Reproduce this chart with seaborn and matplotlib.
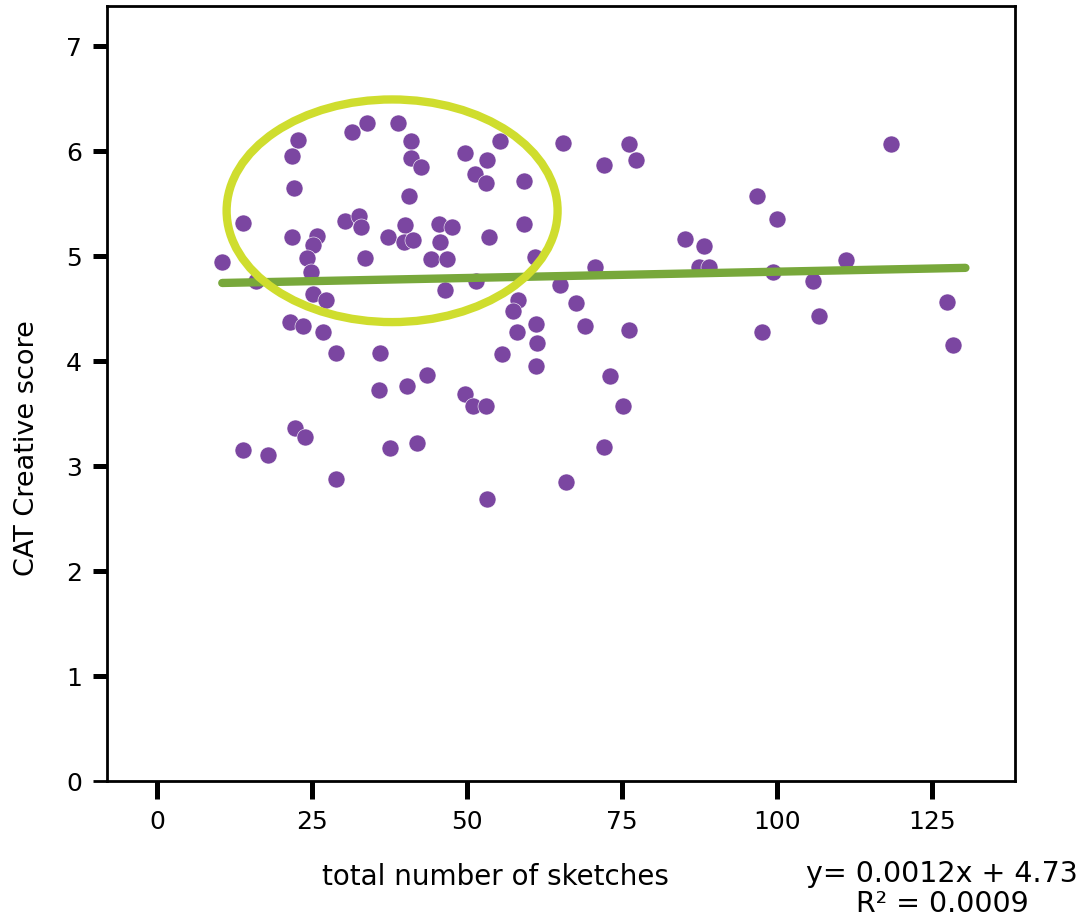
import numpy as np
import pandas as pd
import matplotlib
matplotlib.use("Agg")
import matplotlib.pyplot as plt
from matplotlib.patches import Ellipse
import seaborn as sns

# Total number of sketches per participant
sketches = [
    10.5, 13.9, 16.0, 22.7, 21.8, 22.1, 21.8, 25.8, 25.2, 24.2,
    24.8, 25.2, 27.3, 30.3, 32.6, 32.9, 31.5, 33.9, 37.3, 21.5,
    23.5, 26.8, 28.9, 36.0, 35.8, 22.3, 23.9, 13.9, 17.9, 28.9,
    37.6, 33.5, 38.9, 41.0, 41.0, 42.6, 40.6, 40.0, 39.8, 41.3,
    45.5, 47.6, 45.6, 44.2, 46.8, 46.5, 49.7, 53.2, 51.3, 53.1,
    55.3, 59.2, 53.5, 59.2, 61.0, 51.5, 65.5, 65.0, 58.2, 57.4,
    67.6, 61.1, 58.1, 61.3, 55.6, 61.1, 69.0, 43.5, 40.3, 49.7,
    51.0, 53.1, 41.9, 66.0, 53.2, 76.1, 77.3, 72.1, 96.8, 100.0,
    85.2, 88.2, 70.6, 87.4, 89.0, 99.4, 76.1, 97.6, 73.1, 75.2,
    72.1, 118.4, 105.8, 111.1, 106.8, 127.4, 128.4,
]

# CAT Creative score per participant
scores = [
    4.94, 5.31, 4.76, 6.10, 5.95, 5.65, 5.18, 5.19, 5.10, 4.98,
    4.85, 4.64, 4.58, 5.33, 5.38, 5.28, 6.18, 6.27, 5.18, 4.37,
    4.33, 4.28, 4.08, 4.08, 3.72, 3.36, 3.28, 3.15, 3.10, 2.88,
    3.17, 4.98, 6.27, 6.09, 5.93, 5.85, 5.57, 5.29, 5.13, 5.15,
    5.30, 5.28, 5.13, 4.97, 4.97, 4.68, 5.98, 5.91, 5.78, 5.69,
    6.09, 5.71, 5.18, 5.30, 4.99, 4.76, 6.08, 4.72, 4.58, 4.48,
    4.55, 4.35, 4.28, 4.17, 4.07, 3.95, 4.33, 3.87, 3.76, 3.69,
    3.57, 3.57, 3.22, 2.85, 2.69, 6.07, 5.91, 5.87, 5.57, 5.35,
    5.16, 5.09, 4.89, 4.89, 4.89, 4.85, 4.29, 4.28, 3.86, 3.57,
    3.18, 6.07, 4.76, 4.96, 4.43, 4.56, 4.15,
]

# Linear trend as reported on the chart
slope = 0.0012
intercept = 4.73
r_squared = 0.0009

x_ticks = [0, 25, 50, 75, 100, 125]
y_ticks = [0, 1, 2, 3, 4, 5, 6, 7]

# Highlighted cluster (centre, width, height in data units)
cluster_center = (37.9, 5.43)
cluster_size = (53.4, 2.12)

dot_color = "#7B46A1"
line_color = "#78A83B"
ring_color = "#CFDD2E"

sns.set_theme(style="white")
plt.rcParams["font.family"] = ["DejaVu Sans"]

df = pd.DataFrame({"sketches": sketches, "score": scores})

fig = plt.figure(figsize=(10.82, 9.2), dpi=100)
ax = fig.add_axes([107 / 1082, 1 - 782 / 920, 908 / 1082, 775 / 920])

sns.scatterplot(data=df, x="sketches", y="score", ax=ax, color=dot_color,
                s=150, edgecolor="white", linewidth=0.4, zorder=3, legend=False)

xs = np.array([df["sketches"].min(), df["sketches"].max() + 2])
sns.lineplot(x=xs, y=slope * xs + intercept, ax=ax, color=line_color,
             linewidth=6, zorder=4)

ax.add_patch(Ellipse(cluster_center, cluster_size[0], cluster_size[1],
                     fill=False, edgecolor=ring_color, linewidth=6, zorder=5))

ax.set_xlim(-8.1, 138.4)
ax.set_ylim(0, 7.38)
ax.set_xticks(x_ticks)
ax.set_yticks(y_ticks)
ax.set_xticklabels([str(v) for v in x_ticks])
ax.set_yticklabels([str(v) for v in y_ticks])

for side in ["left", "right", "top", "bottom"]:
    ax.spines[side].set_visible(True)
    ax.spines[side].set_color("black")
    ax.spines[side].set_linewidth(2)

ax.tick_params(axis="x", direction="out", length=13, width=3.6, pad=7,
               labelsize=18, colors="black", bottom=True)
ax.tick_params(axis="y", direction="out", length=10, width=3.6, pad=8,
               labelsize=18, colors="black", left=True)
ax.yaxis.get_major_ticks()[0].tick1line.set_markeredgewidth(2)

ax.set_xlabel("total number of sketches", fontsize=20, color="black")
ax.xaxis.set_label_coords(388 / 908, -0.104)
ax.set_ylabel("CAT Creative score", fontsize=19.5, color="black")
ax.yaxis.set_label_coords(-0.074, 0.431)

fig.text(942 / 1082, 1 - 889 / 920,
         f"y= {slope}x + {intercept}\nR\u00b2 = {r_squared}",
         ha="center", va="center", fontsize=20.5, linespacing=1.1,
         multialignment="center", color="black")

fig.savefig("out.png", dpi=100, facecolor="white")
